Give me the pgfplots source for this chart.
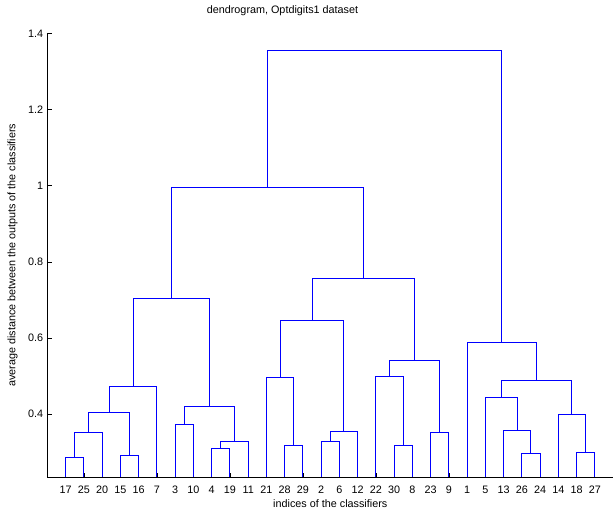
\documentclass[border=0pt]{standalone}
\usepackage{fontspec}
\setmainfont{Liberation Sans}
\usepackage{pgfplots}
\pgfplotsset{compat=1.18}
\definecolor{mblue}{rgb}{0,0,1}
\begin{document}
\begin{tikzpicture}[font=\fontsize{10.8bp}{13bp}\selectfont]
\fill[white] (-47.5bp,-35bp) rectangle (565.5bp,477bp);
\begin{axis}[
  name=ax, at={(0,0)}, anchor=south west,
  scale only axis, width=565.5bp, height=443.7bp,
  xmin=0, xmax=31, ymin=0.235, ymax=1.4,
  axis x line*=bottom, axis y line*=left,
  axis line style={black, line width=0.6bp, -},
  tick align=inside, major tick length=4.5bp,
  tick style={black, line width=0.6bp},
  xtick={1,...,30},
  xticklabels={17,25,20,15,16,7,3,10,4,19,11,21,28,29,2,6,12,22,30,8,23,9,1,5,13,26,24,14,18,27},
  ytick={0.4,0.6,0.8,1,1.2,1.4},
  yticklabels={0.4,0.6,0.8,1,1.2,1.4},
  /pgf/number format/assume math mode=true,
  xticklabel style={anchor=base, yshift=-16.3bp, inner sep=0pt},
  yticklabel style={anchor=east, inner sep=0pt, xshift=-4.2bp},
  xlabel={indices of the classifiers},
  xlabel style={at={(rel axis cs:0.5,0)}, anchor=base, yshift=-30.3bp, inner sep=0pt},
  ylabel={average distance between the outputs of the classifiers},
  ylabel style={at={(rel axis cs:0,0.5)}, anchor=center, yshift=35bp, inner sep=0pt},
  title={dendrogram, Optdigits1 dataset},
  title style={at={(rel axis cs:0.4156,1)}, anchor=base, yshift=14bp, inner sep=0pt},
]
\addplot[draw=mblue, line width=1bp, mark=none, unbounded coords=jump] coordinates {
(1,0) (1,0.287) (2,0.287) (2,0) (nan,nan)
(1.5,0.287) (1.5,0.353) (3,0.353) (3,0) (nan,nan)
(4,0) (4,0.292) (5,0.292) (5,0) (nan,nan)
(2.25,0.353) (2.25,0.405) (4.5,0.405) (4.5,0.292) (nan,nan)
(3.375,0.405) (3.375,0.473) (6,0.473) (6,0) (nan,nan)
(7,0) (7,0.372) (8,0.372) (8,0) (nan,nan)
(9,0) (9,0.310) (10,0.310) (10,0) (nan,nan)
(9.5,0.310) (9.5,0.328) (11,0.328) (11,0) (nan,nan)
(7.5,0.372) (7.5,0.419) (10.25,0.419) (10.25,0.328) (nan,nan)
(4.6875,0.473) (4.6875,0.704) (8.875,0.704) (8.875,0.419) (nan,nan)
(13,0) (13,0.317) (14,0.317) (14,0) (nan,nan)
(12,0) (12,0.496) (13.5,0.496) (13.5,0.317) (nan,nan)
(15,0) (15,0.327) (16,0.327) (16,0) (nan,nan)
(15.5,0.327) (15.5,0.355) (17,0.355) (17,0) (nan,nan)
(12.75,0.496) (12.75,0.647) (16.25,0.647) (16.25,0.355) (nan,nan)
(19,0) (19,0.319) (20,0.319) (20,0) (nan,nan)
(18,0) (18,0.500) (19.5,0.500) (19.5,0.319) (nan,nan)
(21,0) (21,0.353) (22,0.353) (22,0) (nan,nan)
(18.75,0.500) (18.75,0.541) (21.5,0.541) (21.5,0.353) (nan,nan)
(14.5,0.647) (14.5,0.757) (20.125,0.757) (20.125,0.541) (nan,nan)
(6.78125,0.704) (6.78125,0.995) (17.3125,0.995) (17.3125,0.757) (nan,nan)
(26,0) (26,0.297) (27,0.297) (27,0) (nan,nan)
(25,0) (25,0.356) (26.5,0.356) (26.5,0.297) (nan,nan)
(24,0) (24,0.445) (25.75,0.445) (25.75,0.356) (nan,nan)
(29,0) (29,0.299) (30,0.299) (30,0) (nan,nan)
(28,0) (28,0.399) (29.5,0.399) (29.5,0.299) (nan,nan)
(24.875,0.445) (24.875,0.488) (28.75,0.488) (28.75,0.399) (nan,nan)
(23,0) (23,0.589) (26.8125,0.589) (26.8125,0.488) (nan,nan)
(12.046875,0.995) (12.046875,1.354) (24.90625,1.354) (24.90625,0.589)
};
\end{axis}
\pgfresetboundingbox
\path[use as bounding box] (-47.5bp,-35bp) rectangle (565.5bp,477bp);
\end{tikzpicture}
\end{document}
